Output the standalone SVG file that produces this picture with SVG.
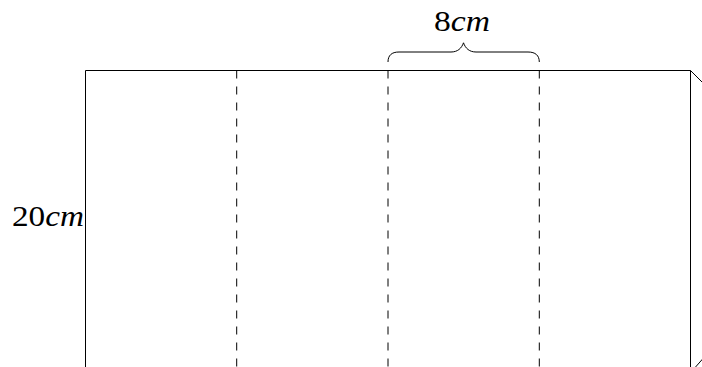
<svg xmlns="http://www.w3.org/2000/svg" width="702" height="367" viewBox="0 0 702 367">
<style>
.edge{stroke:#000;stroke-width:1;fill:none}
.fold{stroke:#000;stroke-width:1;fill:none;stroke-dasharray:8 8}
.lbl{font-family:'Liberation Serif','Times New Roman',serif;font-size:29px;fill:#000}
.it{font-style:italic}
</style>
<rect width="702" height="367" fill="#fff"/>
<g id="sheet">
<path class="edge" d="M85.5,380 V70.5 H690.5 V380"/>
<path class="edge" d="M690.5,70.5 L712,92"/>
<path class="edge" d="M690.5,372.7 L715,345"/>
</g>
<g id="connectors">
<line class="fold" x1="236.7" y1="70.5" x2="236.7" y2="380"/>
<line class="fold" x1="388" y1="70.5" x2="388" y2="380"/>
<line class="fold" x1="539.3" y1="70.5" x2="539.3" y2="380"/>
</g>
<g id="brace">
<path class="edge" stroke-width="1.1" d="M388,62 C388,55.5 391.5,52 399,52 L451,52 C457.5,52 461.5,48.5 463.5,42.8 C465.5,48.5 469.5,52 476,52 L528,52 C535.5,52 539.3,55.5 539.3,62"/>
</g>
<g id="label-width">
<text class="lbl" font-family="Liberation Serif, serif" x="462" y="31" text-anchor="middle" textLength="56" lengthAdjust="spacingAndGlyphs">8<tspan class="it">cm</tspan></text>
</g>
<g id="label-height">
<text class="lbl" font-family="Liberation Serif, serif" x="12" y="226" textLength="72" lengthAdjust="spacingAndGlyphs">20<tspan class="it">cm</tspan></text>
</g>
</svg>
